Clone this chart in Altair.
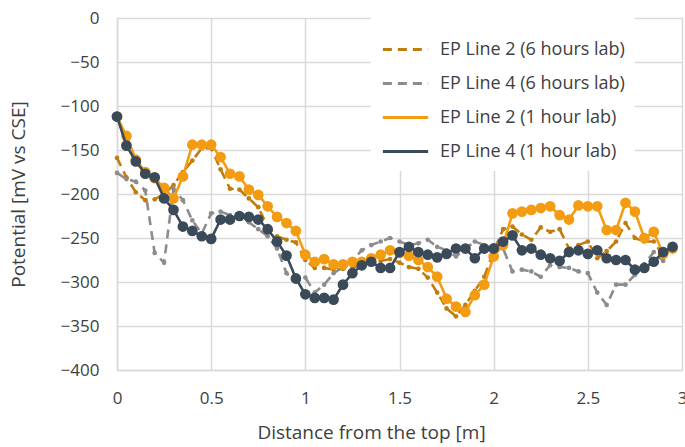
import altair as alt
import pandas as pd

distance = [0, 0.05, 0.1, 0.15, 0.2, 0.25, 0.3, 0.35, 0.4, 0.45,
            0.5, 0.55, 0.6, 0.65, 0.7, 0.75, 0.8, 0.85, 0.9, 0.95,
            1.0, 1.05, 1.1, 1.15, 1.2, 1.25, 1.3, 1.35, 1.4, 1.45,
            1.5, 1.55, 1.6, 1.65, 1.7, 1.75, 1.8, 1.85, 1.9, 1.95,
            2.0, 2.05, 2.1, 2.15, 2.2, 2.25, 2.3, 2.35, 2.4, 2.45,
            2.5, 2.55, 2.6, 2.65, 2.7, 2.75, 2.8, 2.85, 2.9, 2.95]

line2_6h = [-159, -181, -198, -207, -206, -200, -190, -175, -162, -148,
            -148, -172, -194, -195, -205, -215, -237, -248, -252, -255,
            -275, -284, -284, -286, -285, -284, -280, -278, -276, -274,
            -278, -283, -285, -295, -312, -330, -339, -326, -310, -294,
            -265, -240, -237, -246, -252, -238, -243, -240, -262, -258,
            -254, -273, -265, -254, -233, -250, -254, -254, -270]

line4_6h = [-176, -183, -186, -196, -267, -278, -194, -207, -230, -245,
            -222, -220, -224, -228, -232, -240, -248, -262, -290, -300,
            -295, -312, -303, -290, -283, -275, -264, -258, -254, -250,
            -254, -258, -256, -252, -260, -264, -271, -262, -254, -258,
            -258, -262, -288, -286, -288, -294, -281, -283, -284, -288,
            -290, -312, -326, -303, -303, -292, -280, -266, -276]

line2_1h = [-112, -134, -161, -175, -182, -193, -205, -180, -144, -144,
            -144, -158, -177, -180, -195, -201, -214, -226, -233, -242,
            -269, -277, -274, -280, -280, -277, -277, -273, -269, -264,
            -267, -270, -275, -283, -294, -319, -328, -334, -315, -303,
            -271, -258, -222, -220, -218, -216, -214, -224, -229, -213,
            -214, -214, -241, -241, -210, -220, -250, -243, -268, -262]

line4_1h = [-112, -145, -163, -177, -181, -205, -218, -237, -242, -248,
            -251, -229, -229, -225, -226, -229, -240, -254, -270, -296,
            -314, -318, -318, -320, -303, -290, -281, -277, -284, -284,
            -266, -260, -266, -269, -272, -268, -262, -262, -273, -262,
            -262, -254, -247, -264, -262, -269, -273, -276, -266, -264,
            -268, -264, -273, -275, -275, -286, -284, -277, -266, -260]

series_names = ["EP Line 2 (6 hours lab)", "EP Line 4 (6 hours lab)",
                "EP Line 2 (1 hour lab)", "EP Line 4 (1 hour lab)"]
series_values = [line2_6h, line4_6h, line2_1h, line4_1h]
colors = ["#C27C0E", "#8C8C8C", "#F39C12", "#3A4A58"]
dashes = [[9, 6], [9, 6], [1, 0], [1, 0]]
point_sizes = [22, 22, 115, 115]
x_ticks = [0, 0.5, 1, 1.5, 2, 2.5, 3]
y_ticks = [0, -50, -100, -150, -200, -250, -300, -350, -400]

rows = []
for name, vals in zip(series_names, series_values):
    for d, v in zip(distance, vals):
        rows.append({"distance": d, "potential": v, "series": name})
df = pd.DataFrame(rows)

FONT = "Open Sans"
GRID = "#d9d9d9"
TXT = "#404040"

x_enc = alt.X("distance:Q",
              scale=alt.Scale(domain=[0, 3], nice=False),
              axis=alt.Axis(values=x_ticks, format="~g", title="Distance from the top [m]",
                            ticks=False, labelPadding=20, grid=True, labelFlush=False,
                            titleX=254, titleY=62, titleBaseline="middle"))
y_enc = alt.Y("potential:Q",
              scale=alt.Scale(domain=[-400, 0], nice=False),
              axis=alt.Axis(values=y_ticks, format="d", title="Potential [mV vs CSE]",
                            ticks=False, labelPadding=18, grid=True, labelFlush=False,
                            titleX=-99, titleBaseline="middle"))

color_scale = alt.Scale(domain=series_names, range=colors)
dash_scale = alt.Scale(domain=series_names, range=dashes)
legend = alt.Legend(title=None, orient="none", legendX=254, legendY=-3,
                    fillColor="white", padding=10, symbolType="stroke",
                    symbolSize=2050, symbolStrokeWidth=3, labelFontSize=18,
                    labelFont=FONT, labelColor=TXT, rowPadding=0, labelOffset=10,
                    labelLimit=400)

base = alt.Chart(df)
layers = []
for i, name in enumerate(series_names):
    sub = base.transform_filter(alt.datum.series == name)
    line = sub.mark_line(strokeWidth=2.6).encode(
        x=x_enc, y=y_enc,
        color=alt.Color("series:N", scale=color_scale, legend=legend, sort=series_names),
        strokeDash=alt.StrokeDash("series:N", scale=dash_scale, legend=legend, sort=series_names),
    )
    pts = sub.mark_point(filled=True, opacity=1, size=point_sizes[i], shape="circle").encode(
        x=x_enc, y=y_enc, color=alt.value(colors[i])
    )
    layers.append(line)
    layers.append(pts)

chart = alt.layer(*layers).properties(
    width=565, height=352,
    autosize=alt.AutoSizeParams(type="none"),
    padding={"left": 117, "top": 18, "right": 3, "bottom": 77},
).configure_view(stroke=None).configure_axis(
    gridColor=GRID, gridWidth=1.5, domainColor=GRID, domainWidth=1.5,
    labelFont=FONT, labelFontSize=17, labelColor=TXT,
    titleFont=FONT, titleFontSize=19, titleColor=TXT, titleFontWeight="normal",
)

chart.save("out.html", embed_options={"renderer": "svg", "actions": False})
